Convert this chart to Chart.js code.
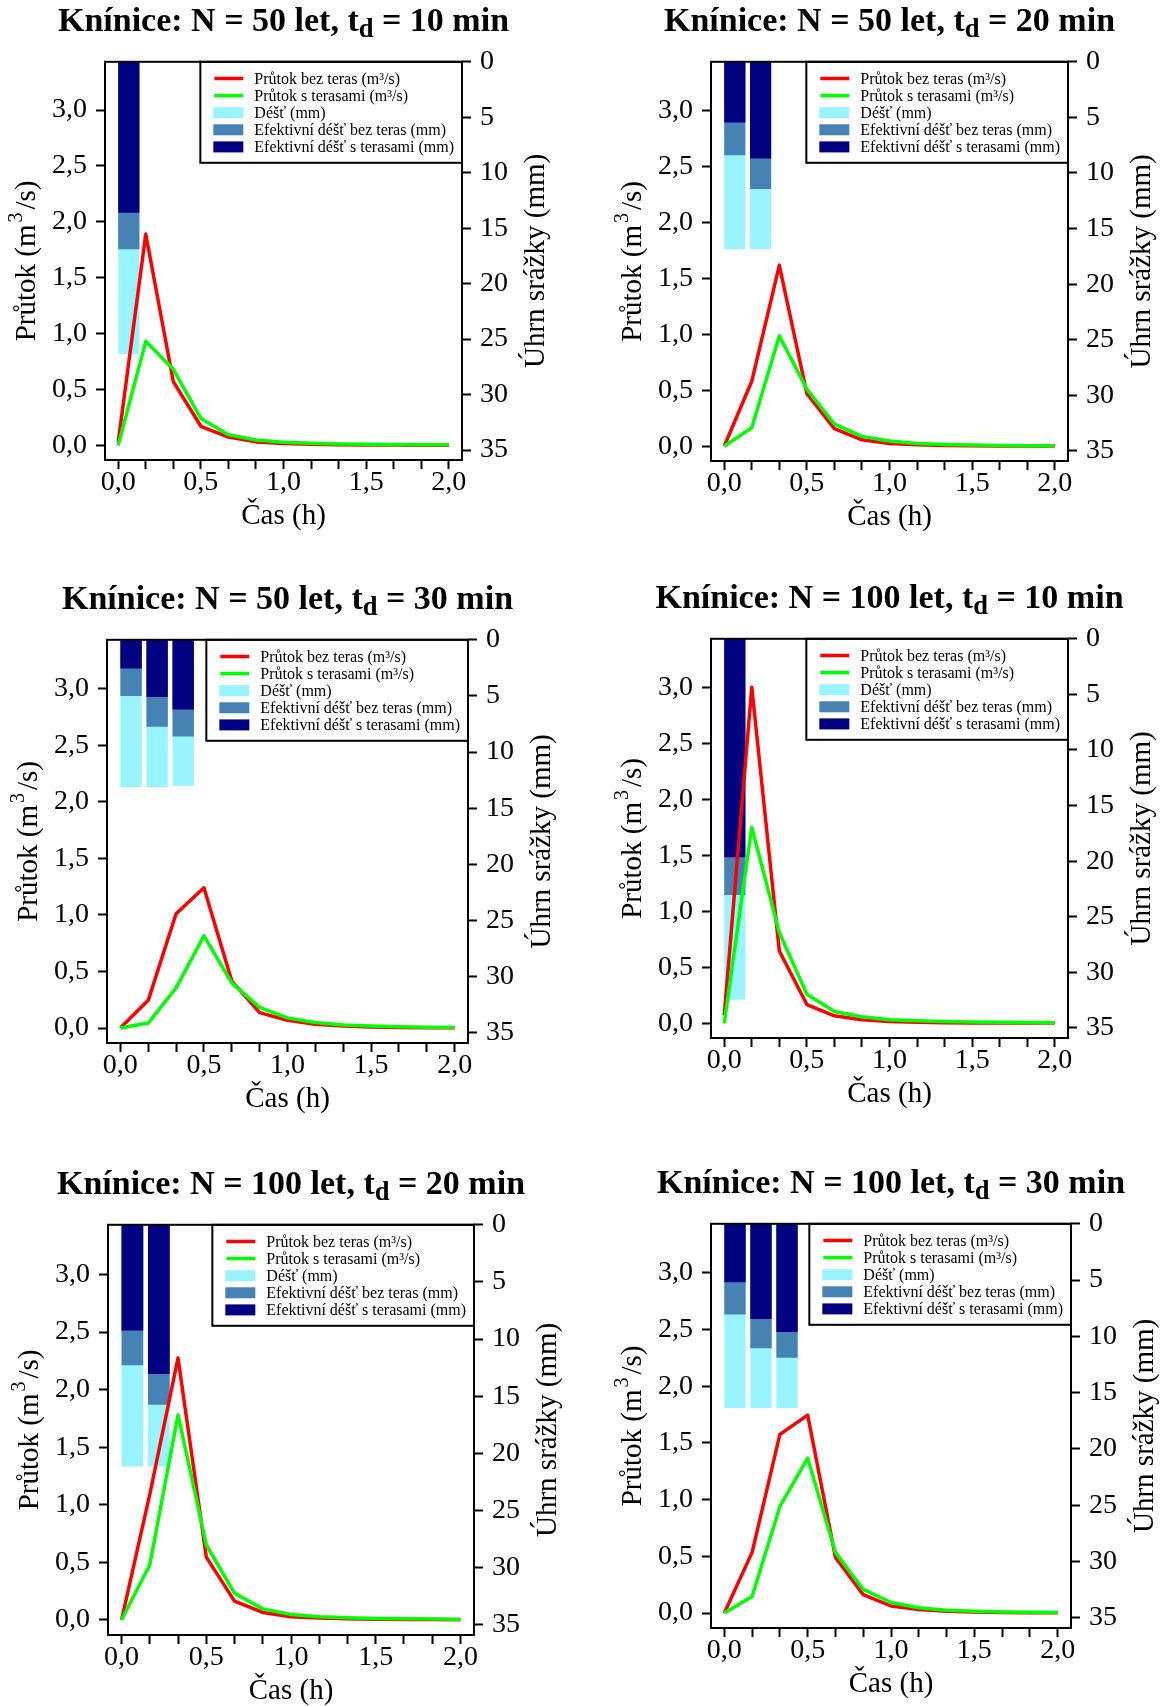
<!DOCTYPE html>
<html lang="cs">
<head>
<meta charset="utf-8">
<title>Knínice – průtoky a srážky</title>
<script src="https://cdn.jsdelivr.net/npm/chart.js@4.4.1/dist/chart.umd.min.js"></script>
<style>
  html, body { margin: 0; padding: 0; background: #fff; }
  #stranka { position: relative; width: 1164px; height: 1706px; overflow: hidden; background: #fff; }
  #stranka canvas { position: absolute; }
  .nadpis {
    position: absolute; width: 600px; height: 40px; line-height: 40px;
    text-align: center; white-space: nowrap; color: #000;
    font: bold 34px "Liberation Serif", serif;
  }
  .nadpis sub { font-size: 0.78em; line-height: 0; vertical-align: -0.22em; }
</style>
</head>
<body>
<div id="stranka"></div>
<script>
// čas po 10 minutách
const casMin = [0, 10, 20, 30, 40, 50, 60, 70, 80, 90, 100, 110, 120];

// popisky os
const xHodnoty = [0, 0.5, 1, 1.5, 2];
const xPopisky = ["0,0", "0,5", "1,0", "1,5", "2,0"];
const yHodnoty = [0, 0.5, 1, 1.5, 2, 2.5, 3];
const yPopisky = ["0,0", "0,5", "1,0", "1,5", "2,0", "2,5", "3,0"];
const srazkyHodnoty = [0, 5, 10, 15, 20, 25, 30, 35];
const srazkyPopisky = ["0", "5", "10", "15", "20", "25", "30", "35"];

// středy sloupců srážek (h)
const sloupceCas = [0.064, 0.22, 0.376];

// N = 50 let, td = 10 min
const prutokBez_50_10 = [0.03, 1.89, 0.57, 0.17, 0.073, 0.03, 0.016, 0.009, 0.005, 0.003, 0.002, 0.001, 0.001];
const prutokTer_50_10 = [0.0, 0.93, 0.68, 0.24, 0.095, 0.047, 0.026, 0.017, 0.011, 0.008, 0.006, 0.005, 0.004];
const dest_50_10 = [26.35];
const efBez_50_10 = [16.9];
const efTer_50_10 = [13.6];

// N = 50 let, td = 20 min
const prutokBez_50_20 = [0.0, 0.58, 1.615, 0.47, 0.157, 0.057, 0.025, 0.013, 0.007, 0.004, 0.002, 0.001, 0.001];
const prutokTer_50_20 = [0.0, 0.165, 0.985, 0.51, 0.198, 0.088, 0.047, 0.025, 0.016, 0.01, 0.007, 0.005, 0.004];
const dest_50_20 = [16.85, 16.85];
const efBez_50_20 = [8.4, 11.45];
const efTer_50_20 = [5.45, 8.7];

// N = 50 let, td = 30 min
const prutokBez_50_30 = [0.0, 0.245, 1.01, 1.24, 0.415, 0.137, 0.068, 0.034, 0.019, 0.01, 0.006, 0.003, 0.002];
const prutokTer_50_30 = [0.0, 0.044, 0.355, 0.815, 0.4, 0.183, 0.09, 0.05, 0.028, 0.019, 0.012, 0.008, 0.005];
const dest_50_30 = [13.1, 13.1, 13.0];
const efBez_50_30 = [5.0, 7.75, 8.6];
const efTer_50_30 = [2.55, 5.1, 6.2];

// N = 100 let, td = 10 min
const prutokBez_100_10 = [0.07, 3.0, 0.645, 0.167, 0.066, 0.031, 0.016, 0.009, 0.005, 0.003, 0.002, 0.001, 0.001];
const prutokTer_100_10 = [0.0, 1.75, 0.81, 0.258, 0.104, 0.057, 0.031, 0.022, 0.016, 0.011, 0.008, 0.006, 0.005];
const dest_100_10 = [32.45];
const efBez_100_10 = [23.05];
const efTer_100_10 = [19.65];

// N = 100 let, td = 20 min
const prutokBez_100_20 = [0.0, 1.09, 2.275, 0.545, 0.162, 0.064, 0.026, 0.015, 0.009, 0.005, 0.003, 0.002, 0.001];
const prutokTer_100_20 = [0.0, 0.477, 1.78, 0.65, 0.232, 0.095, 0.046, 0.026, 0.018, 0.012, 0.009, 0.007, 0.005];
const dest_100_20 = [21.15, 21.15];
const efBez_100_20 = [12.3, 15.75];
const efTer_100_20 = [9.25, 13.05];

// N = 100 let, td = 30 min
const prutokBez_100_30 = [0.0, 0.535, 1.575, 1.745, 0.49, 0.162, 0.062, 0.031, 0.016, 0.009, 0.005, 0.003, 0.002];
const prutokTer_100_30 = [0.0, 0.146, 0.94, 1.365, 0.535, 0.208, 0.093, 0.047, 0.025, 0.016, 0.01, 0.007, 0.005];
const dest_100_30 = [16.35, 16.35, 16.35];
const efBez_100_30 = [8.05, 11.05, 11.9];
const efTer_100_30 = [5.2, 8.45, 9.6];

// rozmístění grafů (rámeček grafu v px)
const panely = [
    { N: 50, td: 10, bez: prutokBez_50_10, ter: prutokTer_50_10, dest: dest_50_10, efBez: efBez_50_10, efTer: efTer_50_10, box: { l: 105, t: 56, w: 357, h: 404 } },
    { N: 50, td: 20, bez: prutokBez_50_20, ter: prutokTer_50_20, dest: dest_50_20, efBez: efBez_50_20, efTer: efTer_50_20, box: { l: 711, t: 56, w: 357, h: 405 } },
    { N: 50, td: 30, bez: prutokBez_50_30, ter: prutokTer_50_30, dest: dest_50_30, efBez: efBez_50_30, efTer: efTer_50_30, box: { l: 107, t: 634, w: 361, h: 409 } },
    { N: 100, td: 10, bez: prutokBez_100_10, ter: prutokTer_100_10, dest: dest_100_10, efBez: efBez_100_10, efTer: efTer_100_10, box: { l: 711, t: 633, w: 357, h: 405 } },
    { N: 100, td: 20, bez: prutokBez_100_20, ter: prutokTer_100_20, dest: dest_100_20, efBez: efBez_100_20, efTer: efTer_100_20, box: { l: 108, t: 1219, w: 366, h: 416 } },
    { N: 100, td: 30, bez: prutokBez_100_30, ter: prutokTer_100_30, dest: dest_100_30, efBez: efBez_100_30, efTer: efTer_100_30, box: { l: 711, t: 1218, w: 360, h: 410 } }
];

const LEVA = 105;
const PRAVA = 100;
const DOLE = 76;
const NAHORE = 20;
const KROK_SLOUPCU = 0.156;
const PISMO = '"Liberation Serif", serif';

Chart.defaults.font.family = PISMO;
Chart.defaults.color = "#000";

const osaMrizka = {
    display: true,
    drawOnChartArea: false,
    drawTicks: true,
    tickLength: 9,
    tickWidth: 2,
    tickColor: "#000",
    color: "#000"
};

const legenda = {
    id: "legenda",
    afterDatasetsDraw(chart) {
        const ctx = chart.ctx;
        const area = chart.chartArea;
        const polozky = chart.data.datasets;

        ctx.save();
        ctx.font = "16px " + PISMO;
        let maxSirka = 0;
        polozky.forEach(function (d) {
            maxSirka = Math.max(maxSirka, ctx.measureText(d.label).width);
        });
        const w = 54 + maxSirka + 8;
        const h = 101;
        const x0 = area.right - w;
        const y0 = area.top;

        ctx.fillStyle = "#fff";
        ctx.fillRect(x0, y0, w, h);
        ctx.strokeStyle = "#000";
        ctx.lineWidth = 2;
        ctx.strokeRect(x0, y0, w, h);

        polozky.forEach(function (d, i) {
            const y = y0 + 16.7 + i * 17.1;
            if (d.type === "line") {
                ctx.strokeStyle = d.borderColor;
                ctx.lineWidth = 3.5;
                ctx.beginPath();
                ctx.moveTo(x0 + 14, y);
                ctx.lineTo(x0 + 43, y);
                ctx.stroke();
            } else {
                ctx.fillStyle = d.backgroundColor;
                ctx.fillRect(x0 + 13, y - 5.5, 30, 11);
            }
            ctx.fillStyle = "#000";
            ctx.textBaseline = "middle";
            ctx.textAlign = "left";
            ctx.fillText(d.label, x0 + 54, y + 1);
        });
        ctx.restore();
    }
};

// svislý text čtený zdola nahoru, s horním indexem m³
function svislyText(ctx, x, y, casti) {
    ctx.save();
    ctx.translate(x, y);
    ctx.rotate(-Math.PI / 2);
    ctx.fillStyle = "#000";
    ctx.textBaseline = "middle";
    ctx.textAlign = "left";
    let sirka = 0;
    casti.forEach(function (c) {
        ctx.font = c.velikost + "px " + PISMO;
        sirka += ctx.measureText(c.text).width + (c.mezera || 0);
    });
    let pozice = -sirka / 2;
    casti.forEach(function (c) {
        ctx.font = c.velikost + "px " + PISMO;
        ctx.fillText(c.text, pozice, c.posun || 0);
        pozice += ctx.measureText(c.text).width + (c.mezera || 0);
    });
    ctx.restore();
}

const ramecek = {
    id: "ramecek",
    afterDraw(chart) {
        const ctx = chart.ctx;
        const a = chart.chartArea;
        ctx.save();
        ctx.strokeStyle = "#000";
        ctx.lineWidth = 2;
        ctx.strokeRect(a.left, a.top, a.right - a.left, a.bottom - a.top);
        ctx.restore();

        const stred = (a.top + a.bottom) / 2;
        svislyText(ctx, a.left - 78, stred, [
            { text: "Průtok (m", velikost: 29, mezera: 2 },
            { text: "3", velikost: 20, posun: -10, mezera: 3 },
            { text: "/s)", velikost: 29 }
        ]);
        svislyText(ctx, a.right + 74, stred, [
            { text: "Úhrn srážky (mm)", velikost: 29 }
        ]);
    }
};

function body(hodnoty) {
    return casMin.map(function (m, i) {
        return { x: m / 60, y: hodnoty[i] };
    });
}

function sloupce(hodnoty) {
    return hodnoty.map(function (v, i) {
        return { x: sloupceCas[i], y: v };
    });
}

function sloupecDataset(popis, barva, hodnoty, poradi) {
    return {
        type: "bar",
        label: popis,
        data: sloupce(hodnoty),
        backgroundColor: barva,
        borderWidth: 0,
        xAxisID: "xs",
        yAxisID: "y2",
        grouped: false,
        barPercentage: 0.82,
        categoryPercentage: 1,
        order: poradi
    };
}

function caraDataset(popis, barva, hodnoty, poradi) {
    return {
        type: "line",
        label: popis,
        data: body(hodnoty),
        borderColor: barva,
        backgroundColor: barva,
        borderWidth: 3.5,
        borderJoinStyle: "round",
        pointRadius: 0,
        tension: 0,
        fill: false,
        xAxisID: "x",
        yAxisID: "y",
        order: poradi
    };
}

const stranka = document.getElementById("stranka");

panely.forEach(function (p) {
    const canvas = document.createElement("canvas");
    canvas.width = LEVA + p.box.w + PRAVA;
    canvas.height = NAHORE + p.box.h + DOLE;
    canvas.style.left = (p.box.l - LEVA) + "px";
    canvas.style.top = (p.box.t - NAHORE) + "px";
    stranka.appendChild(canvas);

    const nadpis = document.createElement("div");
    nadpis.className = "nadpis";
    nadpis.innerHTML = "Knínice: N = " + p.N + " let, t<sub>d</sub> = " + p.td + " min";
    nadpis.style.left = (p.box.l + p.box.w / 2 - 300) + "px";
    nadpis.style.top = (p.box.t - 55) + "px";
    stranka.appendChild(nadpis);

    new Chart(canvas, {
        type: "line",
        data: {
            datasets: [
                caraDataset("Průtok bez teras (m³/s)", "#ff0000", p.bez, 2),
                caraDataset("Průtok s terasami (m³/s)", "#00ff00", p.ter, 1),
                sloupecDataset("Déšť (mm)", "#98f5ff", p.dest, 5),
                sloupecDataset("Efektivní déšť bez teras (mm)", "#4682b4", p.efBez, 4),
                sloupecDataset("Efektivní déšť s terasami (mm)", "#000080", p.efTer, 3)
            ]
        },
        options: {
            responsive: false,
            devicePixelRatio: 1,
            animation: false,
            events: [],
            layout: { padding: { top: NAHORE, left: 0, right: 0, bottom: 0 } },
            plugins: {
                legend: { display: false },
                tooltip: { enabled: false }
            },
            scales: {
                x: {
                    type: "linear",
                    position: "bottom",
                    min: -0.08,
                    max: 2.08,
                    offset: false,
                    afterBuildTicks: function (s) {
                        s.ticks = casMin.map(function (m) { return { value: m / 60 }; });
                    },
                    afterFit: function (s) { s.height = DOLE; },
                    ticks: {
                        autoSkip: false,
                        maxRotation: 0,
                        padding: 0,
                        font: { size: 28, lineHeight: 1 },
                        callback: function (v) {
                            const j = xHodnoty.findIndex(function (h) { return Math.abs(h - v) < 1e-6; });
                            return j < 0 ? "" : xPopisky[j];
                        }
                    },
                    grid: osaMrizka,
                    border: { display: false },
                    title: { display: true, text: "Čas (h)", font: { size: 29 }, padding: { top: 0, bottom: 2 } }
                },
                xs: {
                    type: "linear",
                    position: "bottom",
                    display: false,
                    min: -0.08,
                    max: 2.08,
                    offset: false,
                    afterBuildTicks: function (s) {
                        const t = [];
                        for (let k = 0; k < 14; k++) {
                            t.push({ value: sloupceCas[0] + k * KROK_SLOUPCU });
                        }
                        s.ticks = t;
                    }
                },
                y: {
                    type: "linear",
                    position: "left",
                    min: -0.132,
                    max: 3.432,
                    afterBuildTicks: function (s) {
                        s.ticks = yHodnoty.map(function (v) { return { value: v }; });
                    },
                    afterFit: function (s) { s.width = LEVA; },
                    ticks: {
                        padding: 9,
                        font: { size: 28 },
                        callback: function (v, i) { return yPopisky[i]; }
                    },
                    grid: osaMrizka,
                    border: { display: false }
                },
                y2: {
                    type: "linear",
                    position: "right",
                    min: 0,
                    max: 35.9,
                    reverse: true,
                    afterBuildTicks: function (s) {
                        s.ticks = srazkyHodnoty.map(function (v) { return { value: v }; });
                    },
                    afterFit: function (s) { s.width = PRAVA; },
                    ticks: {
                        padding: 9,
                        font: { size: 28 },
                        callback: function (v, i) { return srazkyPopisky[i]; }
                    },
                    grid: osaMrizka,
                    border: { display: false }
                }
            }
        },
        plugins: [legenda, ramecek]
    });
});
</script>
</body>
</html>
